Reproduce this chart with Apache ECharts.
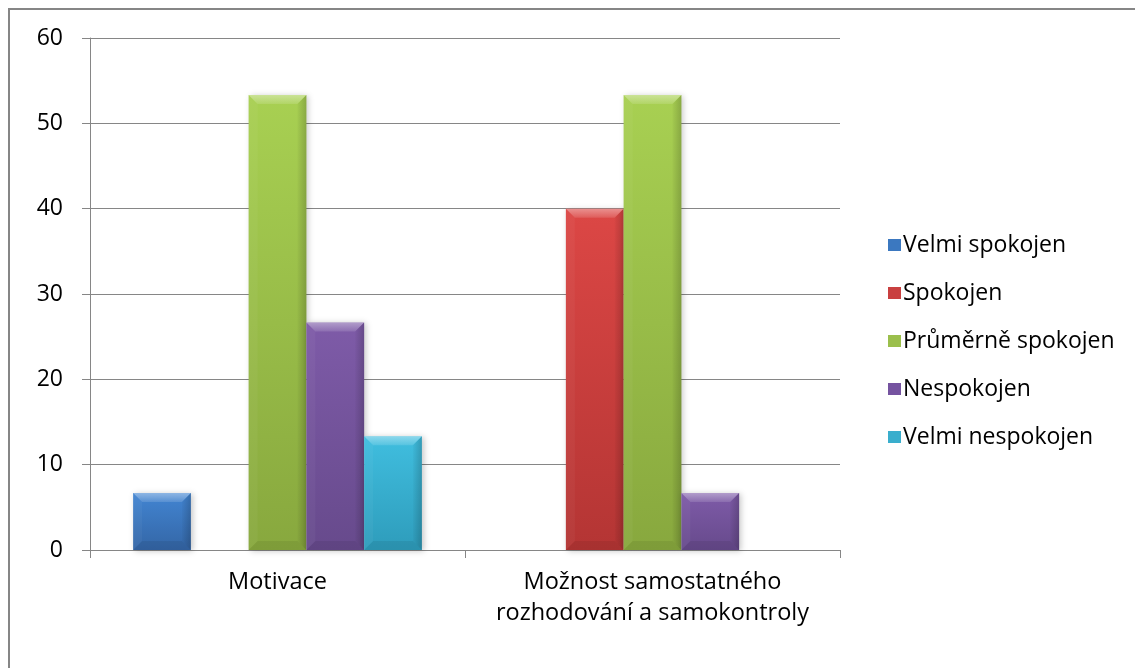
<!DOCTYPE html>
<html>
<head>
<meta charset="utf-8">
<script src="https://cdn.jsdelivr.net/npm/echarts@6/dist/echarts.min.js"></script>
<style>
  html, body { margin: 0; padding: 0; background: #fff; }
  #chart { width: 1135px; height: 668px; }
</style>
</head>
<body>
<div id="chart"></div>
<script>
// Survey answers (percent of respondents) for two workplace aspects
const categories = ['Motivace', 'Možnost samostatného\nrozhodování a samokontroly'];
const seriesNames = ['Velmi spokojen', 'Spokojen', 'Průměrně spokojen', 'Nespokojen', 'Velmi nespokojen'];
const velmiSpokojen = [6.67, 0];
const spokojen = [0, 40];
const prumerneSpokojen = [53.33, 53.33];
const nespokojen = [26.67, 6.67];
const velmiNespokojen = [13.33, 0];
const yTicks = [0, 10, 20, 30, 40, 50, 60];

const seriesValues = [velmiSpokojen, spokojen, prumerneSpokojen, nespokojen, velmiNespokojen];
// face colours: [top, bottom] of each bar's vertical shading
const palette = [
  ['#4285d2', '#3466a6'],
  ['#dc4745', '#b43534'],
  ['#a8d052', '#88a83e'],
  ['#7e5ba8', '#674a8c'],
  ['#40bedf', '#2e9cbb']
];
const legendColors = ['#3b78c0', '#c94040', '#9bbf4c', '#7553a0', '#3aaecd'];

const FONT = '"Open Sans", "Liberation Sans", sans-serif';
const GAP = 0.23;   // share of a category band left empty
const N = seriesNames.length;

function bevelBar(idx) {
  return function (params, api) {
    const cat = api.value(0);
    const val = api.value(1);
    if (!val) return null;
    const band = api.size([1, 0])[0];
    const groupW = band * (1 - GAP);
    const bw = groupW / N;
    const base = api.coord([cat, 0]);
    const top = api.coord([cat, val]);
    const x0 = base[0] - groupW / 2 + idx * bw;
    const x1 = x0 + bw;
    const y0 = top[1];
    const y1 = base[1];
    const h = y1 - y0;
    const b = Math.min(9, h / 2, bw / 2);
    const cols = palette[idx];
    return {
      type: 'group',
      children: [
        {
          type: 'rect',
          shape: { x: x0, y: y0, width: bw, height: h },
          style: {
            fill: new echarts.graphic.LinearGradient(0, 0, 0, 1, [
              { offset: 0, color: cols[0] },
              { offset: 1, color: cols[1] }
            ]),
            shadowBlur: 6,
            shadowColor: 'rgba(0,0,0,0.22)',
            shadowOffsetX: 2,
            shadowOffsetY: 1
          }
        },
        { // top bevel
          type: 'polygon',
          shape: { points: [[x0, y0], [x1, y0], [x1 - b, y0 + b], [x0 + b, y0 + b]] },
          style: {
            fill: new echarts.graphic.LinearGradient(0, 0, 0, 1, [
              { offset: 0, color: 'rgba(255,255,255,0.40)' },
              { offset: 1, color: 'rgba(255,255,255,0.12)' }
            ])
          }
        },
        { // left bevel
          type: 'polygon',
          shape: { points: [[x0, y0], [x0 + b, y0 + b], [x0 + b, y1 - b], [x0, y1]] },
          style: { fill: 'rgba(255,255,255,0.04)' }
        },
        { // right bevel
          type: 'polygon',
          shape: { points: [[x1, y0], [x1 - b, y0 + b], [x1 - b, y1 - b], [x1, y1]] },
          style: {
            fill: new echarts.graphic.LinearGradient(0, 0, 1, 0, [
              { offset: 0, color: 'rgba(0,0,0,0.02)' },
              { offset: 1, color: 'rgba(0,0,0,0.18)' }
            ])
          }
        },
        { // bottom bevel
          type: 'polygon',
          shape: { points: [[x0, y1], [x0 + b, y1 - b], [x1 - b, y1 - b], [x1, y1]] },
          style: { fill: 'rgba(0,0,0,0.07)' }
        }
      ]
    };
  };
}

const series = seriesNames.map((name, i) => ({
  name: name,
  type: 'custom',
  renderItem: bevelBar(i),
  itemStyle: { color: legendColors[i] },
  encode: { x: 0, y: 1 },
  data: seriesValues[i].map((v, j) => [j, v]),
  z: 3
}));

const chart = echarts.init(document.getElementById('chart'), null, { renderer: 'canvas' });
chart.setOption({
  animation: false,
  backgroundColor: '#ffffff',
  textStyle: { fontFamily: FONT },
  graphic: [{
    type: 'rect',
    shape: { x: 9, y: 9, width: 1140, height: 680 },
    style: { fill: 'none', stroke: '#868686', lineWidth: 2 },
    silent: true
  }],
  grid: { left: 90, right: 295, top: 38, bottom: 118, containLabel: false },
  legend: {
    orient: 'vertical',
    left: 883,
    top: 228,
    icon: 'rect',
    itemWidth: 13,
    itemHeight: 12,
    itemGap: 24,
    textStyle: { fontFamily: FONT, fontSize: 23, color: '#000', lineHeight: 24, padding: [0, 0, 0, -3] },
    data: seriesNames
  },
  xAxis: {
    type: 'category',
    data: categories,
    boundaryGap: true,
    axisLine: { lineStyle: { color: '#868686', width: 1 } },
    axisTick: { show: true, length: 8, lineStyle: { color: '#868686' } },
    axisLabel: { color: '#000', fontFamily: FONT, fontSize: 23.5, lineHeight: 31, margin: 17, interval: 0 },
    splitLine: { show: false }
  },
  yAxis: {
    type: 'value',
    min: yTicks[0],
    max: yTicks[yTicks.length - 1],
    interval: yTicks[1] - yTicks[0],
    axisLine: { show: true, lineStyle: { color: '#868686', width: 1 } },
    axisTick: { show: true, length: 8, lineStyle: { color: '#868686' } },
    axisLabel: { color: '#000', fontFamily: FONT, fontSize: 23, margin: 27 },
    splitLine: { show: true, lineStyle: { color: '#868686', width: 1 } }
  },
  series: series
});
</script>
</body>
</html>
